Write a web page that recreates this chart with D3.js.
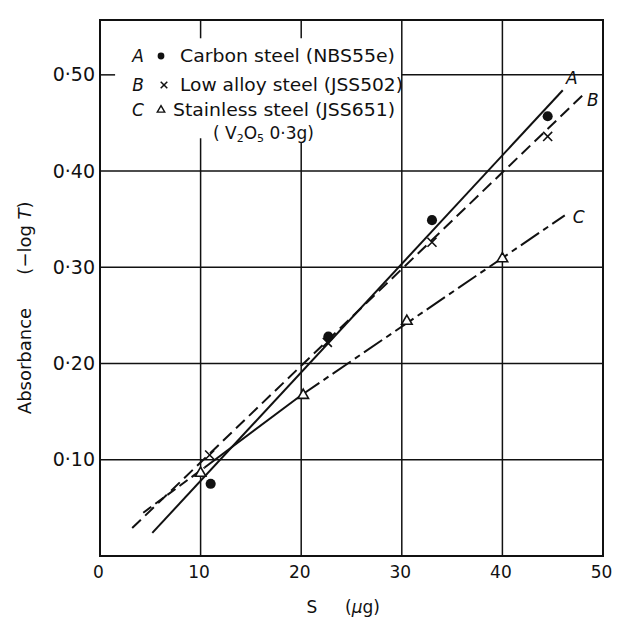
<!DOCTYPE html>
<html>
<head>
<meta charset="utf-8">
<script src="https://cdn.jsdelivr.net/npm/d3@7"></script>
<style>
  html, body { margin: 0; padding: 0; background: #fff; }
  svg { display: block; }
  text { font-family: "DejaVu Sans", sans-serif; fill: #111; }
</style>
</head>
<body>
<svg id="chart" width="628" height="617"></svg>
<script>
// ---- data ----
const xTicks = [0, 10, 20, 30, 40, 50];
const xTickLabels = ["0", "10", "20", "30", "40", "50"];
const yTicks = [0.10, 0.20, 0.30, 0.40, 0.50];
const yTickLabels = ["0·10", "0·20", "0·30", "0·40", "0·50"];

const seriesNames = ["A", "B", "C"];
const legendTexts = ["Carbon steel (NBS55e)", "Low alloy steel (JSS502)", "Stainless steel (JSS651)"];

// measured points
const pointsA = [[11.0, 0.075], [22.7, 0.228], [33.0, 0.349], [44.5, 0.457]];
const pointsB = [[10.9, 0.105], [22.6, 0.222], [33.0, 0.326], [44.5, 0.436]];
const pointsC = [[10.0, 0.086], [20.2, 0.167], [30.5, 0.244], [40.0, 0.309]];

// drawn calibration lines (end points)
const lineA = [[5.2, 0.024], [46.0, 0.484]];
const lineB = [[3.2, 0.029], [48.2, 0.481]];
const lineCLowDash = [[4.3, 0.045], [10.4, 0.092]];
const lineCLowSolid = [[10.4, 0.092], [20.0, 0.167]];
const lineCHigh = [[20.0, 0.167], [46.2, 0.354]];

// ---- layout ----
const svg = d3.select("#chart");
const x = d3.scaleLinear().domain([0, 50]).range([100, 603]);
const y = d3.scaleLinear().domain([0, 0.557]).range([556, 20]);

const ink = "#111";
const g = svg.append("g");

// gridlines
const grid = g.append("g").attr("stroke", ink).attr("stroke-width", 1.5);
yTicks.filter(v => v < 0.45).forEach(v => {
  grid.append("line").attr("x1", x(0)).attr("x2", x(50)).attr("y1", y(v)).attr("y2", y(v));
});
grid.append("line").attr("x1", x(0)).attr("x2", x(1.5)).attr("y1", y(0.5)).attr("y2", y(0.5));
grid.append("line").attr("x1", x(30)).attr("x2", x(50)).attr("y1", y(0.5)).attr("y2", y(0.5));
[10, 20].forEach(v => {
  grid.append("line").attr("x1", x(v)).attr("x2", x(v)).attr("y1", y(0)).attr("y2", y(v === 10 ? 0.434 : 0.430));
  grid.append("line").attr("x1", x(v)).attr("x2", x(v)).attr("y1", y(0.557)).attr("y2", y(0.538));
});
[30, 40].forEach(v => {
  grid.append("line").attr("x1", x(v)).attr("x2", x(v)).attr("y1", y(0)).attr("y2", y(0.557));
});

// frame
g.append("rect")
  .attr("x", x(0)).attr("y", y(0.557))
  .attr("width", x(50) - x(0)).attr("height", y(0) - y(0.557))
  .attr("fill", "none").attr("stroke", ink).attr("stroke-width", 2);

// axes (labels only)
const xAxis = d3.axisBottom(x).tickValues(xTicks).tickSize(0).tickPadding(0)
  .tickFormat((d, i) => xTickLabels[i]);
const xa = g.append("g").attr("transform", `translate(-2,${y(0) + 10})`).call(xAxis);
xa.select(".domain").remove();
xa.selectAll("text").attr("font-size", 17).attr("font-family", "DejaVu Sans, sans-serif").attr("fill", ink);

const yAxis = d3.axisLeft(y).tickValues(yTicks).tickSize(0).tickPadding(0)
  .tickFormat((d, i) => yTickLabels[i]);
const ya = g.append("g").attr("transform", `translate(${x(0) - 5},0)`).call(yAxis);
ya.select(".domain").remove();
ya.selectAll("text").attr("font-size", 19).attr("font-family", "DejaVu Sans, sans-serif").attr("fill", ink);

// axis titles
g.append("text").attr("x", 312).attr("y", 613).attr("font-size", 17).attr("text-anchor", "middle").text("S");
const xt = g.append("text").attr("x", 345).attr("y", 613).attr("font-size", 17);
xt.append("tspan").text("(");
xt.append("tspan").attr("font-style", "italic").text("μ");
xt.append("tspan").text("g)");

g.append("text").attr("transform", "translate(31,361) rotate(-90)")
  .attr("font-size", 18).attr("text-anchor", "middle").text("Absorbance");
const yt = g.append("text").attr("transform", "translate(31,238) rotate(-90)")
  .attr("font-size", 18).attr("text-anchor", "middle");
yt.append("tspan").text("(−log ");
yt.append("tspan").attr("font-style", "italic").text("T");
yt.append("tspan").text(")");

// lines
const lineGen = d3.line().x(d => x(d[0])).y(d => y(d[1]));
const lines = g.append("g").attr("fill", "none").attr("stroke", ink).attr("stroke-width", 2);
lines.append("path").attr("d", lineGen(lineA));
lines.append("path").attr("d", lineGen(lineB)).attr("stroke-dasharray", "12,6");
lines.append("path").attr("d", lineGen(lineCLowDash)).attr("stroke-dasharray", "10,5");
lines.append("path").attr("d", lineGen(lineCLowSolid));
lines.append("path").attr("d", lineGen(lineCHigh)).attr("stroke-dasharray", "22,5,6,5");

// line labels
const lineLabels = [[lineA[1], [9, -12]], [lineB[1], [8, 7]], [lineCHigh[1], [14, 2]]];
lineLabels.forEach((l, i) => {
  g.append("text").attr("x", x(l[0][0]) + l[1][0]).attr("y", y(l[0][1]) + l[1][1] + 6)
    .attr("font-size", 17).attr("font-style", "italic").attr("text-anchor", "middle").text(seriesNames[i]);
});

// markers
const circ = d3.symbol().type(d3.symbolCircle).size(80);
const cross = d3.symbol().type(d3.symbolX).size(55);
const tri = d3.symbol().type(d3.symbolTriangle2).size(80);
const mk = g.append("g");
pointsA.forEach(p => mk.append("path").attr("d", circ()).attr("transform", `translate(${x(p[0])},${y(p[1])})`).attr("fill", ink));
pointsB.forEach(p => mk.append("path").attr("d", cross()).attr("transform", `translate(${x(p[0])},${y(p[1])})`).attr("fill", "none").attr("stroke", ink).attr("stroke-width", 1.6));
pointsC.forEach(p => mk.append("path").attr("d", tri()).attr("transform", `translate(${x(p[0])},${y(p[1])})`).attr("fill", "#fff").attr("stroke", ink).attr("stroke-width", 1.6));

// legend
const legY = [62, 91, 116];
const legSymbols = [
  s => s.append("path").attr("d", d3.symbol().type(d3.symbolCircle).size(36)()).attr("fill", ink),
  s => s.append("path").attr("d", d3.symbol().type(d3.symbolX).size(30)()).attr("fill", "none").attr("stroke", ink).attr("stroke-width", 1.5),
  s => s.append("path").attr("d", d3.symbol().type(d3.symbolTriangle2).size(40)()).attr("fill", "none").attr("stroke", ink).attr("stroke-width", 1.4)
];
const legTextX = [180, 180, 173];
const legTextLen = [215, 223, 222];
seriesNames.forEach((n, i) => {
  g.append("text").attr("x", 138).attr("y", legY[i]).attr("font-size", 17).attr("font-style", "italic")
    .attr("text-anchor", "middle").text(n);
  const s = g.append("g").attr("transform", `translate(${i === 1 ? 164 : 161},${legY[i] - 6})`);
  legSymbols[i](s);
  g.append("text").attr("x", legTextX[i]).attr("y", legY[i]).attr("font-size", 17)
    .attr("textLength", legTextLen[i]).attr("lengthAdjust", "spacingAndGlyphs").text(legendTexts[i]);
});
const v = g.append("text").attr("x", 213).attr("y", 139).attr("font-size", 17);
v.append("tspan").text("( V");
v.append("tspan").attr("font-size", 11).attr("dy", 3).text("2");
v.append("tspan").attr("dy", -3).text("O");
v.append("tspan").attr("font-size", 11).attr("dy", 3).text("5");
v.append("tspan").attr("dy", -3).text(" 0·3g)");
</script>
</body>
</html>
